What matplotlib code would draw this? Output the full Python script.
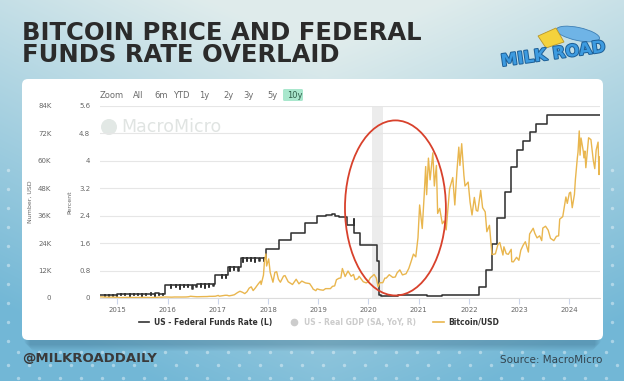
import numpy as np
import pandas as pd
import matplotlib
matplotlib.use("Agg")
import matplotlib.pyplot as plt
import matplotlib.dates as mdates
from matplotlib.patches import FancyBboxPatch, Ellipse, Circle, Polygon
from matplotlib.lines import Line2D
import matplotlib.patheffects as pe

W, H = 624, 381

# ---------------- data ----------------
title_lines = ["BITCOIN PRICE AND FEDERAL", "FUNDS RATE OVERLAID"]
range_buttons = ["Zoom", "All", "6m", "YTD", "1y", "2y", "3y", "5y", "10y"]
legend_labels = ["US - Federal Funds Rate (L)", "US - Real GDP (SA, YoY, R)", "Bitcoin/USD"]

btc_dates = [
    "2014-08-28", "2014-09-15", "2014-10-01", "2014-10-15", "2014-11-01", "2014-11-15",
    "2014-12-01", "2014-12-15", "2015-01-01", "2015-01-14", "2015-02-01", "2015-02-15",
    "2015-03-10", "2015-04-01", "2015-04-15", "2015-05-15", "2015-06-15", "2015-07-10",
    "2015-08-01", "2015-08-20", "2015-09-15", "2015-10-15", "2015-11-04", "2015-11-15",
    "2015-12-15", "2016-01-01", "2016-01-15", "2016-02-01", "2016-02-20", "2016-03-15",
    "2016-04-15", "2016-05-15", "2016-06-01", "2016-06-17", "2016-07-01", "2016-08-02",
    "2016-08-20", "2016-09-15", "2016-10-15", "2016-11-01", "2016-11-20", "2016-12-15",
    "2017-01-04", "2017-01-12", "2017-02-01", "2017-02-23", "2017-03-10", "2017-03-24",
    "2017-04-15", "2017-05-01", "2017-05-25", "2017-06-11", "2017-06-30", "2017-07-16",
    "2017-08-01", "2017-08-17", "2017-09-01", "2017-09-15", "2017-10-01", "2017-10-20",
    "2017-11-08", "2017-11-12", "2017-11-29", "2017-12-07", "2017-12-17", "2017-12-22",
    "2018-01-06", "2018-01-17", "2018-02-06", "2018-02-20", "2018-03-05", "2018-03-18",
    "2018-04-01", "2018-04-24", "2018-05-05", "2018-05-28", "2018-06-28", "2018-07-25",
    "2018-08-14", "2018-09-04", "2018-09-30", "2018-10-31", "2018-11-20", "2018-11-25",
    "2018-12-15", "2018-12-24", "2019-01-15", "2019-02-07", "2019-02-24", "2019-03-31",
    "2019-04-15", "2019-05-01", "2019-05-14", "2019-05-31", "2019-06-15", "2019-06-26",
    "2019-07-16", "2019-08-06", "2019-08-29", "2019-09-15", "2019-09-26", "2019-10-15",
    "2019-10-26", "2019-11-25", "2019-12-17", "2020-01-01", "2020-01-15", "2020-02-12",
    "2020-02-28", "2020-03-12", "2020-03-25", "2020-04-15", "2020-04-30", "2020-05-10",
    "2020-06-01", "2020-06-27", "2020-07-15", "2020-07-28", "2020-08-17", "2020-09-05",
    "2020-10-01", "2020-10-21", "2020-11-05", "2020-11-24", "2020-12-11", "2020-12-27",
    "2021-01-08", "2021-01-27", "2021-02-10", "2021-02-21", "2021-02-28", "2021-03-13",
    "2021-03-25", "2021-04-14", "2021-04-25", "2021-05-10", "2021-05-19", "2021-06-03",
    "2021-06-22", "2021-07-05", "2021-07-20", "2021-08-14", "2021-09-06", "2021-09-21",
    "2021-10-06", "2021-10-20", "2021-10-28", "2021-11-10", "2021-11-26", "2021-12-04",
    "2021-12-27", "2022-01-10", "2022-01-24", "2022-02-10", "2022-02-24", "2022-03-07",
    "2022-03-28", "2022-04-11", "2022-04-30", "2022-05-12", "2022-05-31", "2022-06-18",
    "2022-07-13", "2022-07-31", "2022-08-14", "2022-09-06", "2022-09-13", "2022-09-30",
    "2022-10-15", "2022-11-05", "2022-11-09", "2022-11-21", "2022-12-14", "2022-12-31",
    "2023-01-14", "2023-01-31", "2023-02-16", "2023-03-10", "2023-03-19", "2023-04-14",
    "2023-04-26", "2023-05-12", "2023-05-31", "2023-06-15", "2023-06-23", "2023-07-13",
    "2023-08-01", "2023-08-18", "2023-09-11", "2023-09-30", "2023-10-16", "2023-10-24",
    "2023-11-15", "2023-12-08", "2023-12-18", "2024-01-02", "2024-01-11", "2024-01-23",
    "2024-02-08", "2024-02-15", "2024-02-29", "2024-03-05", "2024-03-14", "2024-03-20",
    "2024-03-27", "2024-04-13", "2024-04-17", "2024-04-24", "2024-05-01", "2024-05-21",
    "2024-06-07", "2024-06-24", "2024-07-05", "2024-07-15", "2024-07-29", "2024-08-05",
    "2024-08-09",
]
btc_prices = [
    510, 470, 385, 395, 325, 385,
    380, 345, 315, 180, 225, 235,
    290, 245, 220, 237, 236, 285,
    280, 235, 230, 255, 400, 320,
    455, 430, 375, 372, 440, 415,
    430, 455, 535, 760, 675, 545,
    580, 610, 640, 730, 730, 780,
    1130, 780, 985, 1190, 1190, 940,
    1180, 1420, 2400, 2950, 2480, 1930,
    2730, 4300, 4890, 3250, 4400, 6000,
    7400, 5900, 10000, 16500, 19300, 14000,
    17100, 11200, 6900, 11200, 11500, 8200,
    6900, 9600, 9800, 7100, 5900, 8200,
    6200, 7400, 6600, 6300, 4500, 3900,
    3200, 4000, 3600, 3400, 4100, 4100,
    5100, 5300, 8000, 8600, 8800, 12900,
    9400, 11800, 9500, 10300, 8000, 8400,
    9500, 7100, 6600, 7200, 8800, 10300,
    8700, 4900, 6700, 6700, 8700, 8700,
    10200, 9000, 9200, 11000, 12300, 10100,
    10600, 12900, 15600, 19200, 18000, 26400,
    40700, 30400, 44800, 57500, 45200, 61200,
    51700, 63500, 49000, 58000, 37000, 39200,
    32500, 33700, 29800, 47800, 52700, 40700,
    55300, 66000, 58000, 67500, 53700, 49000,
    50700, 41900, 36300, 44000, 38300, 38000,
    47100, 39500, 37700, 29000, 31800, 19000,
    19300, 23300, 24300, 18800, 22400, 19400,
    19100, 21300, 15900, 15800, 17800, 16500,
    20900, 23100, 24600, 20100, 28000, 30500,
    28300, 26300, 27200, 25100, 30600, 31400,
    29700, 26100, 25100, 27000, 27200, 34500,
    35600, 44200, 41400, 45900, 46300, 39500,
    45300, 51800, 61200, 63800, 73100, 62500,
    70000, 64000, 61300, 64300, 57000, 70100,
    69300, 60300, 56600, 64700, 68200, 54000,
    61700,
]

ffr_dates = [
    "2014-08-28", "2015-01-02", "2015-03-02", "2015-05-01", "2015-07-01", "2015-09-01",
    "2015-10-01", "2015-12-17", "2016-03-01", "2016-06-01", "2016-08-01", "2016-11-01",
    "2016-12-15", "2017-03-16", "2017-06-15", "2017-12-14", "2018-03-22", "2018-06-14",
    "2018-09-27", "2018-12-20", "2019-03-01", "2019-04-10", "2019-05-02", "2019-06-01",
    "2019-08-01", "2019-09-17", "2019-09-18", "2019-09-19", "2019-10-31", "2020-03-04",
    "2020-03-16", "2020-03-17", "2020-04-01", "2020-08-01", "2021-03-01", "2021-06-17",
    "2021-07-01", "2022-03-17", "2022-05-05", "2022-06-16", "2022-07-28", "2022-09-22",
    "2022-11-03", "2022-12-15", "2023-02-02", "2023-03-23", "2023-05-04", "2023-07-27",
    "2024-08-09",
]
ffr_rates = [
    0.09, 0.12, 0.11, 0.12, 0.13, 0.14,
    0.12, 0.37, 0.37, 0.38, 0.40, 0.41,
    0.66, 0.91, 1.16, 1.42, 1.68, 1.91,
    2.18, 2.40, 2.41, 2.44, 2.38, 2.36,
    2.13, 2.30, 2.25, 1.90, 1.55, 1.09,
    0.25, 0.10, 0.05, 0.09, 0.07, 0.10,
    0.08, 0.33, 0.83, 1.58, 2.33, 3.08,
    3.83, 4.33, 4.58, 4.83, 5.08, 5.33,
    5.33,
]
# month-end dips of the daily effective rate
ffr_dip_dates = [
    "2014-09-30", "2014-10-31", "2014-11-28", "2014-12-31",
    "2015-01-30", "2015-02-27", "2015-03-31", "2015-04-30", "2015-05-29", "2015-06-30",
    "2015-07-31", "2015-08-31", "2015-09-30", "2015-10-30", "2015-11-30",
    "2016-01-29", "2016-02-29", "2016-03-31", "2016-04-29", "2016-05-31", "2016-06-30",
    "2016-07-29", "2016-08-31", "2016-09-30", "2016-10-31", "2016-11-30",
    "2017-01-31", "2017-02-28", "2017-03-31", "2017-04-28", "2017-05-31", "2017-06-30",
    "2017-07-31", "2017-08-31", "2017-09-29", "2017-10-31", "2017-11-30",
]
ffr_dip_rates = [
    0.06, 0.07, 0.07, 0.06,
    0.08, 0.08, 0.06, 0.08, 0.08, 0.06,
    0.09, 0.09, 0.06, 0.08, 0.08,
    0.30, 0.31, 0.25, 0.31, 0.31, 0.25,
    0.32, 0.32, 0.29, 0.33, 0.34,
    0.57, 0.58, 0.79, 0.81, 0.80, 1.06,
    1.07, 1.07, 1.06, 1.09, 1.08,
]

btc_ticks = [0, 12000, 24000, 36000, 48000, 60000, 72000, 84000]
btc_tick_labels = ["0", "12K", "24K", "36K", "48K", "60K", "72K", "84K"]
rate_ticks = [0, 0.8, 1.6, 2.4, 3.2, 4.0, 4.8, 5.6]
rate_tick_labels = ["0", "0.8", "1.6", "2.4", "3.2", "4", "4.8", "5.6"]
year_ticks = ["2015-01-01", "2016-01-01", "2017-01-01", "2018-01-01", "2019-01-01",
              "2020-01-01", "2021-01-01", "2022-01-01", "2023-01-01", "2024-01-01"]
year_labels = ["2015", "2016", "2017", "2018", "2019", "2020", "2021", "2022", "2023", "2024"]
x_range = ["2014-08-28", "2024-08-12"]
shade_span = ["2020-01-27", "2020-04-15"]
circle_center = ("2020-07-16", 39400)
circle_size = (734, 76600)   # days, USD

# ---------------- figure ----------------
fig = plt.figure(figsize=(W / 100, H / 100), dpi=100)

bg = fig.add_axes([0, 0, 1, 1], zorder=0)
bg.set_xlim(0, W)
bg.set_ylim(H, 0)
bg.axis("off")
yy, xx = np.mgrid[0:H, 0:W]
t = np.clip(0.95 * (yy / H) + 0.75 * np.abs(xx / W - 0.52) ** 1.1 - 0.12, 0, 1)
light = np.array([0.875, 0.925, 0.925])
blue = np.array([0.45, 0.72, 0.84])
img = light * (1 - t[..., None]) + blue * t[..., None]
bg.imshow(img, extent=(0, W, H, 0), aspect="auto", zorder=0, interpolation="bilinear")

# decorative dots
dx, dy = np.meshgrid(np.arange(8, W, 21), np.arange(352, H, 13))
bg.scatter(dx.ravel() + (dy.ravel() // 13 % 2) * 10, dy.ravel(), s=6, c="white",
           alpha=0.4, lw=0, zorder=1)
ex, ey = np.meshgrid(np.array([8, 612]), np.arange(170, 345, 19))
bg.scatter(ex.ravel(), ey.ravel(), s=6, c="white", alpha=0.4, lw=0, zorder=1)

# panel shadow + panel
for k in range(7):
    bg.add_patch(FancyBboxPatch((24 + k, 84 + k), 577 - 2 * k, 261,
                                boxstyle="round,pad=0,rounding_size=6",
                                fc=(0.1, 0.25, 0.35), ec="none", alpha=0.035, zorder=1.5))
bg.add_patch(FancyBboxPatch((22, 79), 581, 261, boxstyle="round,pad=0,rounding_size=6",
                            fc="white", ec="none", zorder=2))

# title
for i, line in enumerate(title_lines):
    bg.text(22, 40 + 22 * i, line, fontsize=17.5, fontweight="bold", color="#2b2b2b",
            ha="left", va="baseline", family="DejaVu Sans", zorder=3)

# logo
bg.add_patch(Ellipse((578, 34), 44, 13, angle=12, fc="#6fb4e6", ec="#3d7fb5", lw=0.6, zorder=3))
bg.add_patch(Polygon([[538, 36], [556, 28], [564, 42], [546, 48]], closed=True,
                     fc="#f4d23c", ec="#b8962a", lw=0.6, zorder=3.2))
bg.text(553, 54, "MILK ROAD", fontsize=12, fontweight="bold", color="#3d9be0",
        ha="center", va="center", rotation=8, zorder=3.5,
        path_effects=[pe.withStroke(linewidth=1.4, foreground="#1d5f96")])

# footer
bg.text(22, 359, "@MILKROADDAILY", fontsize=9.5, fontweight="bold", color="#3a3a3a",
        ha="left", va="center", zorder=3)
bg.text(602, 360, "Source: MacroMicro", fontsize=7.5, color="#33444f",
        ha="right", va="center", zorder=3)

# range selector
range_x = [100, 133, 154, 173, 199, 223, 243, 267, 287]
bg.add_patch(FancyBboxPatch((283, 89), 20, 12, boxstyle="round,pad=0,rounding_size=1.5",
                            fc="#a9e7cd", ec="none", zorder=3))
for lbl, x in zip(range_buttons, range_x):
    bg.text(x, 95.5, lbl, fontsize=6, color="#2f5d49" if lbl == "10y" else "#6b6b6b",
            ha="left", va="center", zorder=3.5)

# watermark
bg.add_patch(Circle((109, 127), 8, fc="#e2e8e5", ec="none", zorder=3))
bg.text(121, 127, "MacroMicro", fontsize=12.5, color="#e0e4e2", ha="left", va="center",
        zorder=3)

# ---------------- chart ----------------
ax = fig.add_axes([100 / W, (H - 298) / H, 500 / W, 192 / H], zorder=3)
ax.set_facecolor("none")
ax2 = ax.twinx()
ax2.set_zorder(4)
ax2.patch.set_visible(False)

x0, x1 = pd.to_datetime(x_range)
ax.set_xlim(x0, x1)

# federal funds rate (daily effective, step series with month-end dips)
fd = pd.to_datetime(ffr_dates)
fv = np.array(ffr_rates)
pts = list(zip(fd, fv))
for d, v in zip(pd.to_datetime(ffr_dip_dates), ffr_dip_rates):
    i = np.searchsorted(fd.values, np.datetime64(d), side="right") - 1
    pts.append((d, v))
    pts.append((d + pd.Timedelta(days=1), fv[i]))
pts.sort(key=lambda p: p[0])
ax.plot([p[0] for p in pts], [p[1] for p in pts], drawstyle="steps-post",
        color="#333333", lw=1.15, zorder=3)

ax.axvspan(pd.Timestamp(shade_span[0]), pd.Timestamp(shade_span[1]),
           color="#ececec", lw=0, zorder=0)

ax.set_ylim(0, 5.6)
ax.set_yticks(rate_ticks)
ax.set_yticklabels(rate_tick_labels)
ax.grid(axis="y", color="#e6e6e6", lw=0.8)
ax.set_axisbelow(True)
ax.tick_params(axis="y", length=0, pad=7, labelsize=5, labelcolor="#666666")
ax.set_xticks(pd.to_datetime(year_ticks))
ax.set_xticklabels(year_labels)
ax.tick_params(axis="x", length=4, width=0.8, color="#ccd6eb", pad=2.5,
               labelsize=5, labelcolor="#666666")
ax.set_ylabel("Percent", fontsize=4.5, color="#666666")
ax.yaxis.set_label_coords(-0.056, 0.5)
for s in ["top", "right", "left"]:
    ax.spines[s].set_visible(False)
ax.spines["bottom"].set_color("#dcdcdc")
ax.spines["bottom"].set_linewidth(0.8)

# bitcoin
ax2.plot(pd.to_datetime(btc_dates), btc_prices, color="#e9b64e", lw=1.0, zorder=3)
ax2.set_ylim(0, 84000)
ax2.yaxis.set_ticks_position("left")
ax2.yaxis.set_label_position("left")
ax2.set_yticks(btc_ticks)
ax2.set_yticklabels(btc_tick_labels)
ax2.tick_params(axis="y", length=0, pad=35, labelsize=5, labelcolor="#666666")
ax2.set_ylabel("Number, USD", fontsize=4.5, color="#666666")
ax2.yaxis.set_label_coords(-0.134, 0.5)
for s in ax2.spines.values():
    s.set_visible(False)

ax2.add_patch(Ellipse((mdates.date2num(pd.Timestamp(circle_center[0])), circle_center[1]),
                      width=circle_size[0], height=circle_size[1],
                      fill=False, ec="#d8412c", lw=1.3, zorder=5))

# legend
handles = [Line2D([], [], color="#333333", lw=1.2),
           Line2D([], [], color="#cccccc", marker="o", ls="none", ms=4.5),
           Line2D([], [], color="#e9b64e", lw=1.2)]
leg = fig.legend(handles, legend_labels, loc="center", bbox_to_anchor=(319 / W, (H - 322) / H),
                 ncol=3, frameon=False, prop={"size": 5.5, "weight": "bold"},
                 handlelength=1.4, handletextpad=0.6, columnspacing=2.2)
for txt, col in zip(leg.get_texts(), ["#333333", "#cccccc", "#333333"]):
    txt.set_color(col)

fig.savefig("out.png", dpi=100)
